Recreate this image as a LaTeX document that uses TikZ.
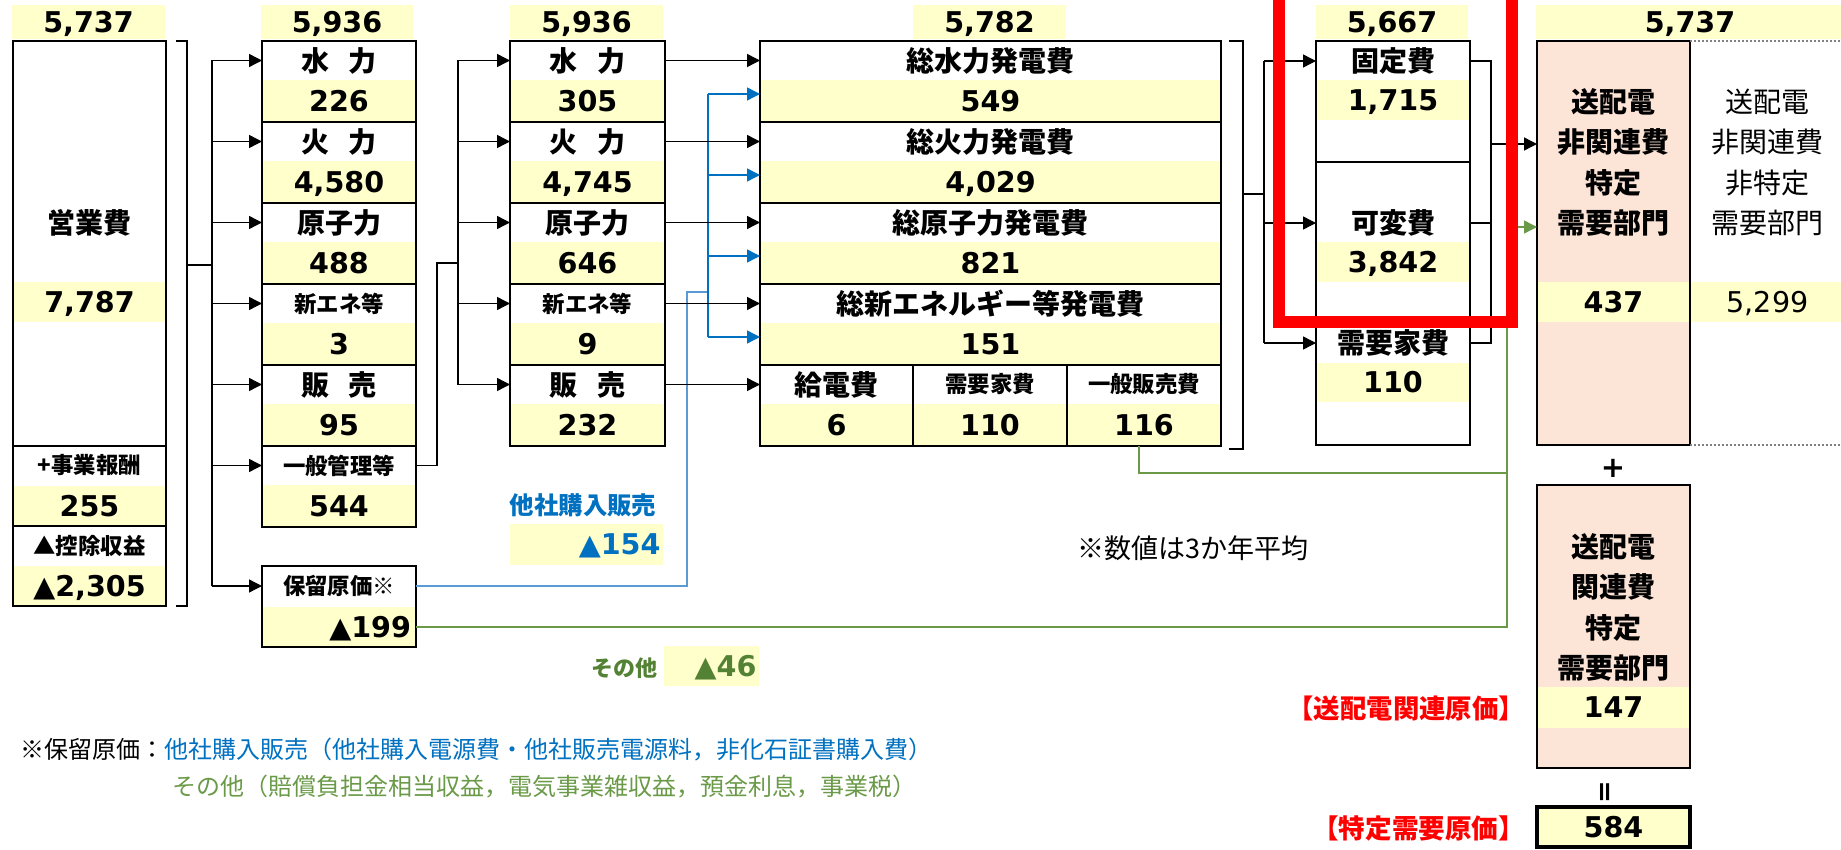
\documentclass[tikz,border=0pt]{standalone}
\usepackage{fontspec}
\usetikzlibrary{arrows.meta}
\newfontfamily\jpfont{Noto Sans CJK JP}
\newfontfamily\numfont{DejaVu Sans}
\newcommand\fsz[1]{\fontsize{#1}{#1}\selectfont}
\definecolor{valyel}{HTML}{FFFFCC}
\definecolor{pinkf}{HTML}{FCE4D6}
\definecolor{bluet}{HTML}{0070C0}
\definecolor{bluel}{HTML}{5B9BD5}
\definecolor{greent}{HTML}{548235}
\definecolor{greenl}{HTML}{6A9A48}
\tikzset{
  cell/.style={inner sep=0pt, outer sep=0pt},
  lab/.style={cell, minimum height=19.5pt, font=\jpfont\bfseries\fsz{14}},
  labs/.style={cell, minimum height=19.5pt, font=\jpfont\bfseries\fsz{11.2}},
  val/.style={cell, fill=valyel, minimum height=21pt, text height=10.4pt, text depth=0pt, font=\numfont\bfseries\fsz{14.3}},
  valr/.style={val, text width=#1, align=right},
  stack/.style={cell, align=center, minimum width=76.5pt},
  box/.style={draw=black, line width=1pt},
  brk/.style={line width=0.6pt},
  conn/.style={line width=0.7pt, -{Triangle[length=6.5pt,width=6.5pt]}},
  bconn/.style={conn, draw=bluet, -{Triangle[length=6.5pt,width=6.5pt,fill=bluet]}},
  gconn/.style={conn, draw=greenl, -{Triangle[length=6.5pt,width=6.5pt,fill=greenl]}},
}

\begin{document}
\begin{tikzpicture}[x=0.5pt,y=-0.5pt]
\useasboundingbox (0,0) rectangle (1841,850);

\fill[pinkf] (1537,41) rectangle (1690,445);
\fill[pinkf] (1537,485) rectangle (1690,768);

\node[val, minimum width=76.5pt, minimum height=17pt] (tot1) at (88.5,22) {5,737};
\node[val, minimum width=76pt, minimum height=17pt] (tot2) at (337,22) {5,936};
\node[val, minimum width=76.5pt, minimum height=17pt] (tot3) at (586.5,22) {5,936};
\node[val, minimum width=76.5pt, minimum height=17pt] (tot4) at (989.5,22) {5,782};
\node[val, minimum width=76pt, minimum height=17pt] (tot5) at (1392,22) {5,667};
\node[val, minimum width=154pt, minimum height=17pt] (tot6) at (1690,22) {5,737};

\node[lab, minimum width=76.5pt] (eigyo) at (89.5,223) {営業費};
\node[val, minimum width=76.5pt, minimum height=20pt] (eigyov) at (89.5,302) {7,787};
\node[labs, minimum width=76.5pt] (hoshu) at (89.5,465.5) {+事業報酬};
\node[val, minimum width=76.5pt, minimum height=20.5pt] (hoshuv) at (89.5,506) {255};
\node[labs, minimum width=76.5pt] (kojo) at (89.5,546) {▲控除収益};
\node[val, minimum width=76.5pt, minimum height=20pt] (kojov) at (89.5,586) {▲2,305};

\node[lab, minimum width=77pt] (sui2) at (339,60.5) {水\hspace{0.7em}力};
\node[val, minimum width=77pt] (sui2v) at (339,101) {226};
\node[lab, minimum width=77pt] (ka2) at (339,141.5) {火\hspace{0.7em}力};
\node[val, minimum width=77pt] (ka2v) at (339,182) {4,580};
\node[lab, minimum width=77pt] (gen2) at (339,222.5) {原子力};
\node[val, minimum width=77pt] (gen2v) at (339,263) {488};
\node[labs, minimum width=77pt] (shin2) at (339,303.5) {新エネ等};
\node[val, minimum width=77pt] (shin2v) at (339,344) {3};
\node[lab, minimum width=77pt] (han2) at (339,384.5) {販\hspace{0.7em}売};
\node[val, minimum width=77pt] (han2v) at (339,425) {95};
\node[labs, minimum width=77pt] (kanri2) at (339,465.5) {一般管理等};
\node[val, minimum width=77pt] (kanri2v) at (339,506) {544};

\node[labs, minimum width=77pt] (horyu) at (339,586) {保留原価※};
\node[valr=72pt, inner xsep=2.5pt, minimum height=20pt] (horyuv) at (339,627) {▲199};

\node[lab, minimum width=77.5pt] (sui3) at (587.5,60.5) {水\hspace{0.7em}力};
\node[val, minimum width=77.5pt] (sui3v) at (587.5,101) {305};
\node[lab, minimum width=77.5pt] (ka3) at (587.5,141.5) {火\hspace{0.7em}力};
\node[val, minimum width=77.5pt] (ka3v) at (587.5,182) {4,745};
\node[lab, minimum width=77.5pt] (gen3) at (587.5,222.5) {原子力};
\node[val, minimum width=77.5pt] (gen3v) at (587.5,263) {646};
\node[labs, minimum width=77.5pt] (shin3) at (587.5,303.5) {新エネ等};
\node[val, minimum width=77.5pt] (shin3v) at (587.5,344) {9};
\node[lab, minimum width=77.5pt] (han3) at (587.5,384.5) {販\hspace{0.7em}売};
\node[val, minimum width=77.5pt] (han3v) at (587.5,425) {232};

\node[lab, minimum width=230.5pt] (sui4) at (990.5,60.5) {総水力発電費};
\node[val, minimum width=230.5pt] (sui4v) at (990.5,101) {549};
\node[lab, minimum width=230.5pt] (ka4) at (990.5,141.5) {総火力発電費};
\node[val, minimum width=230.5pt] (ka4v) at (990.5,182) {4,029};
\node[lab, minimum width=230.5pt] (gen4) at (990.5,222.5) {総原子力発電費};
\node[val, minimum width=230.5pt] (gen4v) at (990.5,263) {821};
\node[lab, minimum width=230.5pt] (shin4) at (990.5,303.5) {総新エネルギー等発電費};
\node[val, minimum width=230.5pt] (shin4v) at (990.5,344) {151};
\node[lab, minimum width=76.5pt] (kyu4) at (836.5,384.5) {給電費};
\node[val, minimum width=76.5pt] (kyu4v) at (836.5,425) {6};
\node[labs, minimum width=77pt] (juy4) at (990,384.5) {需要家費};
\node[val, minimum width=77pt] (juy4v) at (990,425) {110};
\node[labs, minimum width=77pt] (han4) at (1144,384.5) {一般販売費};
\node[val, minimum width=77pt] (han4v) at (1144,425) {116};

\node[lab, minimum width=77pt] (kotei) at (1393,61) {固定費};
\node[val, minimum width=77pt, minimum height=20pt] (koteiv) at (1393,100) {1,715};
\node[lab, minimum width=77pt] (kahen) at (1393,223) {可変費};
\node[val, minimum width=77pt, minimum height=20pt] (kahenv) at (1393,262) {3,842};
\node[lab, minimum width=77pt] (juy5) at (1393,343) {需要家費};
\node[val, minimum width=77pt, minimum height=19.5pt] (juy5v) at (1393,382.5) {110};

\node[stack, font=\jpfont\bfseries\fontsize{14}{20.2}\selectfont] (tok) at (1613.5,162.5) {送配電\\非関連費\\特定\\需要部門};
\node[val, minimum width=76.5pt, minimum height=20pt] (tokv) at (1613.5,302) {437};
\node[stack, font=\jpfont\fontsize{14}{20.2}\selectfont] (hitok) at (1767.5,162.5) {送配電\\非関連費\\非特定\\需要部門};
\node[val, minimum width=77.5pt, minimum height=20pt, font=\numfont\fsz{14.3}] (hitokv) at (1767.5,302) {5,299};

\node[cell, font=\numfont\bfseries\fsz{14.5}] (plus) at (1613,468) {+};
\node[stack, font=\jpfont\bfseries\fontsize{14}{20.2}\selectfont] (kan) at (1613.5,607.5) {送配電\\関連費\\特定\\需要部門};
\node[val, minimum width=76.5pt, minimum height=20.5pt] (kanv) at (1613.5,707) {147};
\node[cell, rotate=90, font=\numfont\bfseries\fsz{13.5}] (eq) at (1607,792) {=};
\node[val, minimum width=76.5pt, minimum height=20pt, draw=black, line width=2pt] (total) at (1613.5,827) {584};
\node[cell, anchor=east, red, font=\jpfont\bfseries\fsz{13.2}] (kanlbl) at (1525,708) {【送配電関連原価】};
\node[cell, anchor=east, red, font=\jpfont\bfseries\fsz{13.3}] (totlbl) at (1525,828) {【特定需要原価】};

\node[cell, bluet, font=\jpfont\bfseries\fsz{12.2}] (tasha) at (583,505) {他社購入販売};
\node[valr=74pt, inner xsep=1.25pt, minimum height=20.5pt, text=bluet] (tashav) at (586.5,544.5) {▲154};
\node[cell, greent, font=\jpfont\bfseries\fsz{11}] (sonota) at (624.5,668) {その他};
\node[valr=45pt, inner xsep=1.25pt, minimum height=20pt, text=greent] (sonotav) at (711.5,666) {▲46};
\node[cell, anchor=west, font=\jpfont\fsz{13.5}] (heikin) at (1077,548) {※数値は3か年平均};
\node[cell, anchor=west, font=\jpfont\fsz{12}] (chu1) at (20,750) {※保留原価：\textcolor{bluet}{他社購入販売（他社購入電源費・他社販売電源料，非化石証書購入費）}};
\node[cell, anchor=west, greenl, font=\jpfont\fsz{12}] (chu2) at (172,787) {その他（賠償負担金相当収益，電気事業雑収益，預金利息，事業税）};

\draw[box] (13,41) rectangle (166,606);
\draw[box] (13,446) -- (166,446) (13,526) -- (166,526);
\draw[box] (262,41) rectangle (416,527);
\draw[box] (262,122) -- (416,122) (262,203) -- (416,203) (262,284) -- (416,284) (262,365) -- (416,365) (262,446) -- (416,446);
\draw[box] (262,566) rectangle (416,647);
\draw[box] (510,41) rectangle (665,446);
\draw[box] (510,122) -- (665,122) (510,203) -- (665,203) (510,284) -- (665,284) (510,365) -- (665,365);
\draw[box] (760,41) rectangle (1221,446);
\draw[box] (760,122) -- (1221,122) (760,203) -- (1221,203) (760,284) -- (1221,284) (760,365) -- (1221,365);
\draw[box] (913,365) -- (913,446) (1067,365) -- (1067,446);
\draw[box] (1316,41) rectangle (1470,445);
\draw[box] (1316,162) -- (1470,162) (1316,323) -- (1470,323);
\draw[box] (1537,41) rectangle (1690,445);
\draw[gray, line width=1pt, densely dotted] (1690,41) -- (1850,41) (1690,445) -- (1850,445);
\draw[box] (1537,485) rectangle (1690,768);

\coordinate (b1) at (212,265);
\draw[brk] (176,41) -- (187,41) -- (187,606) -- (176,606);
\draw[brk] (187,265) -- (b1);
\draw[brk] (sui2.west -| b1) -- (horyu.west -| b1);
\draw[conn] (sui2.west -| b1) -- (sui2.west);
\draw[conn] (ka2.west -| b1) -- (ka2.west);
\draw[conn] (gen2.west -| b1) -- (gen2.west);
\draw[conn] (shin2.west -| b1) -- (shin2.west);
\draw[conn] (han2.west -| b1) -- (han2.west);
\draw[conn] (kanri2.west -| b1) -- (kanri2.west);
\draw[conn] (horyu.west -| b1) -- (horyu.west);

\coordinate (b2) at (458,263);
\draw[brk] (kanri2.east) -- (437,465.5) -- (437,263) -- (b2);
\draw[brk] (sui3.west -| b2) -- (han3.west -| b2);
\draw[conn] (sui3.west -| b2) -- (sui3.west);
\draw[conn] (ka3.west -| b2) -- (ka3.west);
\draw[conn] (gen3.west -| b2) -- (gen3.west);
\draw[conn] (shin3.west -| b2) -- (shin3.west);
\draw[conn] (han3.west -| b2) -- (han3.west);

\coordinate (bv) at (708,292);
\draw[bluel, line width=0.8pt] (horyu.east) -- (687,586) -- (687,292) -- (bv);
\draw[bluet, line width=0.8pt] ([yshift=3.5pt]sui4v.west -| bv) -- ([yshift=3.5pt]shin4v.west -| bv);
\draw[bconn] ([yshift=3.5pt]sui4v.west -| bv) -- ([yshift=3.5pt]sui4v.west);
\draw[bconn] ([yshift=3.5pt]ka4v.west -| bv) -- ([yshift=3.5pt]ka4v.west);
\draw[bconn] ([yshift=3.5pt]gen4v.west -| bv) -- ([yshift=3.5pt]gen4v.west);
\draw[bconn] ([yshift=3.5pt]shin4v.west -| bv) -- ([yshift=3.5pt]shin4v.west);

\draw[conn] (sui3.east) -- (sui4.west);
\draw[conn] (ka3.east) -- (ka4.west);
\draw[conn] (gen3.east) -- (gen4.west);
\draw[conn] (shin3.east) -- (shin4.west);
\draw[conn] (han3.east) -- (kyu4.west);

\coordinate (b4) at (1264,194);
\draw[brk] (1229,41) -- (1243,41) -- (1243,449) -- (1229,449);
\draw[brk] (1243,194) -- (b4);
\draw[brk] (kotei.west -| b4) -- (juy5.west -| b4);
\draw[conn] (kotei.west -| b4) -- (kotei.west);
\draw[conn] (kahen.west -| b4) -- (kahen.west);
\draw[conn] (juy5.west -| b4) -- (juy5.west);

\coordinate (b5) at (1491,144);
\draw[brk] (kotei.east) -- (1491,61) -- (1491,343) -- (juy5.east);
\draw[brk] (kahen.east) -- (1491,223);
\draw[conn] (b5) -- (b5 -| tok.west);

\coordinate (g1) at (1507,227);
\draw[greenl, line width=0.8pt] ([xshift=-2.5pt]han4v.south) -- (1139,473) -- (1507,473);
\draw[greenl, line width=0.8pt] (horyuv.east) -- (1507,627) -- (g1);
\draw[gconn] (g1) -- (g1 -| tok.west);

\draw[red, line width=6pt] (1279,-30) rectangle (1512,322);
\end{tikzpicture}
\end{document}
